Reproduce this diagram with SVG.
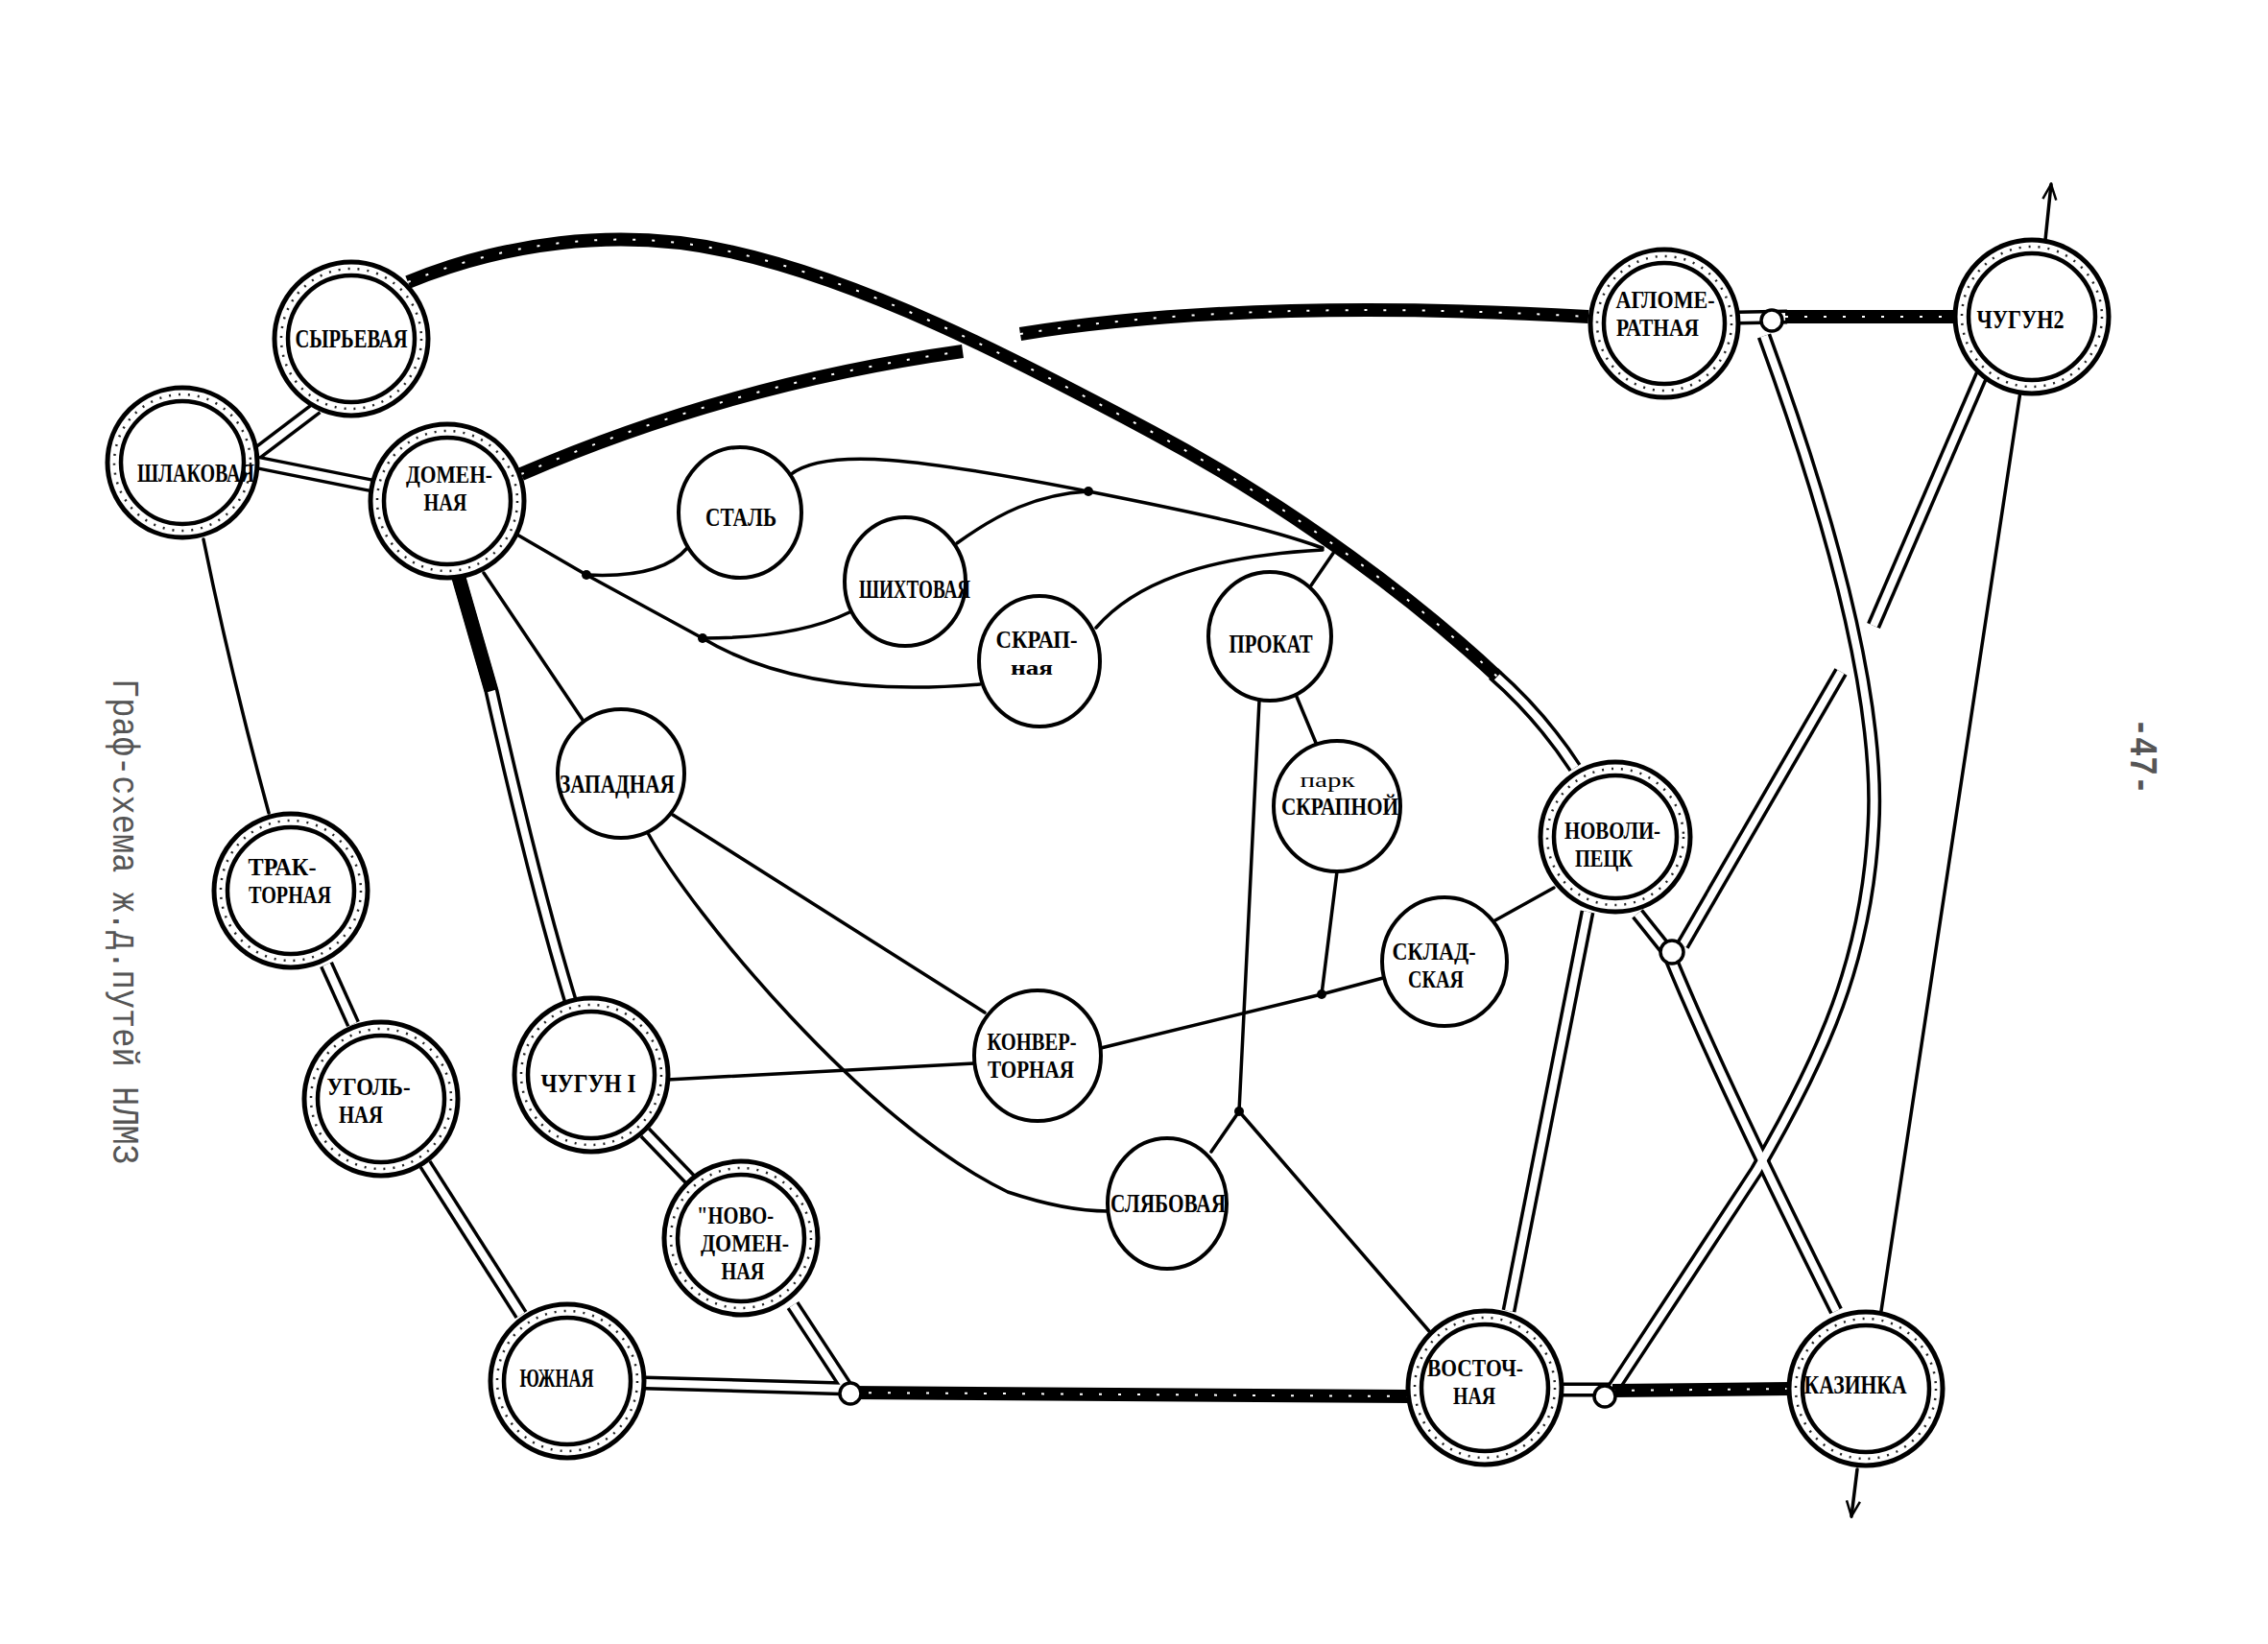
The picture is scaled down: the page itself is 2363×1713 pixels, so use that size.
<svg xmlns="http://www.w3.org/2000/svg" xmlns:xlink="http://www.w3.org/1999/xlink" width="2363" height="1713" viewBox="0 0 2363 1713">
<style>
.bg{fill:#fff}
.lbl{font-family:"Liberation Serif","DejaVu Serif",serif;font-weight:bold;font-size:28px;fill:#000;text-anchor:middle}
.two{font-size:26px}
.sm{font-size:22px}
.lc{font-weight:normal;font-size:22px}
.ro{fill:#fff;stroke:#000;stroke-width:5}
.rm{fill:none;stroke:#222;stroke-width:2.5;stroke-dasharray:2 8}
.ri{fill:none;stroke:#000;stroke-width:4.5}
.sn{fill:#fff;stroke:#000;stroke-width:4}
.rb{fill:none;stroke:#000;stroke-width:15;stroke-linecap:butt;stroke-linejoin:round}
.rw{fill:none;stroke:#fff;stroke-width:8;stroke-linecap:butt;stroke-linejoin:round}
.hb{fill:none;stroke:#000;stroke-width:14;stroke-linecap:butt;stroke-linejoin:round}
.hw{fill:none;stroke:#fff;stroke-width:2;stroke-dasharray:3 17}
.th{fill:none;stroke:#000;stroke-width:3.5;stroke-linecap:round;stroke-linejoin:round}
.dot{fill:#000}
.blob{fill:#fff;stroke:#000;stroke-width:3.5}
.cap{font-family:"Liberation Mono","DejaVu Sans Mono",monospace;fill:#555;text-anchor:middle}
</style>
<defs>
<marker id="arr" viewBox="0 0 20 20" refX="18" refY="10" markerWidth="20" markerHeight="20" markerUnits="userSpaceOnUse" orient="auto">
<path d="M2,3 L18,10 L2,17" fill="none" stroke="#000" stroke-width="2.5"/>
</marker>
<path id="r1" d="M268,472 L330,425"/>
<path id="r2" d="M268,482 L388,506"/>
<path id="r3" d="M340,1005 L368,1067"/>
<path id="r4" d="M443,1213 L543,1370"/>
<path id="r5" d="M478,602 L512,720 C530,800 560,930 594,1042"/>
<path id="r6" d="M672,1180 L722,1232"/>
<path id="r7" d="M826,1360 L885,1450"/>
<path id="r8" d="M672,1441 L885,1447"/>
<path id="r9" d="M1556,702 Q1605,745 1641,800"/>
<path id="r10" d="M1654,950 L1572,1366"/>
<path id="r11" d="M1706,952 L1738,992 Q1790,1120 1913,1366"/>
<path id="r12" d="M2065,390 L1952,652"/>
<path id="r13" d="M1918,700 L1753,985"/>
<path id="r14" d="M1810,331 L1862,330"/>
<path id="r15" d="M1838,350 C1900,520 1960,720 1952,860 C1945,1000 1900,1100 1830,1220 L1680,1448"/>
<path id="r16" d="M1627,1448 L1682,1448"/>
<path id="h1" d="M425,294 C520,255 640,235 760,262 C900,293 1050,370 1200,450 C1350,530 1480,630 1560,705"/>
<path id="h2" d="M543,494 Q760,400 1003,366"/>
<path id="h3" d="M1063,348 Q1300,310 1655,330"/>
<path id="h4" d="M885,1451 L1468,1455"/>
<path id="h5" d="M1680,1449 L1866,1447"/>
<path id="h6" d="M478,602 L512,720"/>
<path id="h7" d="M1860,330 L2040,330"/>
</defs>
<rect class="bg" x="0" y="0" width="2363" height="1713"/>
<g id="connectors">
<use xlink:href="#r1" class="rb"/><use xlink:href="#r2" class="rb"/><use xlink:href="#r3" class="rb"/><use xlink:href="#r4" class="rb"/><use xlink:href="#r5" class="rb"/><use xlink:href="#r6" class="rb"/><use xlink:href="#r7" class="rb"/><use xlink:href="#r8" class="rb"/><use xlink:href="#r9" class="rb"/><use xlink:href="#r10" class="rb"/><use xlink:href="#r11" class="rb"/><use xlink:href="#r12" class="rb"/><use xlink:href="#r13" class="rb"/><use xlink:href="#r14" class="rb"/><use xlink:href="#r15" class="rb"/><use xlink:href="#r16" class="rb"/>
<use xlink:href="#r1" class="rw"/><use xlink:href="#r2" class="rw"/><use xlink:href="#r3" class="rw"/><use xlink:href="#r4" class="rw"/><use xlink:href="#r5" class="rw"/><use xlink:href="#r6" class="rw"/><use xlink:href="#r7" class="rw"/><use xlink:href="#r8" class="rw"/><use xlink:href="#r9" class="rw"/><use xlink:href="#r10" class="rw"/><use xlink:href="#r11" class="rw"/><use xlink:href="#r12" class="rw"/><use xlink:href="#r13" class="rw"/><use xlink:href="#r14" class="rw"/><use xlink:href="#r15" class="rw"/><use xlink:href="#r16" class="rw"/>
<use xlink:href="#h1" class="hb"/><use xlink:href="#h2" class="hb"/><use xlink:href="#h3" class="hb"/><use xlink:href="#h4" class="hb"/><use xlink:href="#h5" class="hb"/><use xlink:href="#h6" class="hb"/><use xlink:href="#h7" class="hb"/>
<use xlink:href="#h1" class="hw"/><use xlink:href="#h2" class="hw"/><use xlink:href="#h3" class="hw"/><use xlink:href="#h4" class="hw"/><use xlink:href="#h5" class="hw"/><use xlink:href="#h7" class="hw"/>
<path class="th" d="M212,562 Q240,700 280,847"/>
<path class="th" d="M504,597 L607,750"/>
<path class="th" d="M537,556 L611,599 L732,665 C790,700 880,725 1021,713"/>
<path class="th" d="M716,571 C700,590 670,602 611,599"/>
<path class="th" d="M885,638 C840,660 780,665 732,665"/>
<path class="th" d="M823,495 C860,465 960,478 1134,512 C1250,535 1320,550 1378,571"/>
<path class="th" d="M997,566 C1040,535 1080,515 1134,512"/>
<path class="th" d="M1142,654 C1180,610 1250,580 1378,573"/>
<path class="th" d="M1366,610 L1390,575"/>
<path class="th" d="M1312,730 L1291,1158"/>
<path class="th" d="M1291,1158 L1262,1200"/>
<path class="th" d="M1291,1158 L1489,1387"/>
<path class="th" d="M1351,726 L1371,774"/>
<path class="th" d="M1393,908 L1377,1036"/>
<path class="th" d="M1147,1092 L1377,1036 L1441,1019"/>
<path class="th" d="M695,1125 L1015,1108"/>
<path class="th" d="M701,849 L1026,1055"/>
<path class="th" d="M675,868 C720,950 900,1170 1050,1242 Q1110,1262 1154,1262"/>
<path class="th" d="M1619,925 L1556,960"/>
<path class="th" d="M2105,408 L1960,1366"/>
<path class="th" d="M2131,250 L2137,192" marker-end="url(#arr)"/>
<path class="th" d="M1935,1531 L1929,1580" marker-end="url(#arr)"/>
<circle class="dot" cx="611" cy="599" r="5"/>
<circle class="dot" cx="732" cy="665" r="5"/>
<circle class="dot" cx="1134" cy="512" r="5"/>
<circle class="dot" cx="1377" cy="1036" r="5"/>
<circle class="dot" cx="1291" cy="1158" r="5"/>
<circle class="blob" cx="1846" cy="334" r="11"/>
<circle class="blob" cx="886" cy="1452" r="11"/>
<circle class="blob" cx="1672" cy="1455" r="11"/>
<circle class="blob" cx="1742" cy="992" r="12"/>
</g>
<g id="n-syrevaya"><circle class="ro" cx="366" cy="353" r="80"/><circle class="rm" cx="366" cy="353" r="73"/><circle class="ri" cx="366" cy="353" r="66"/><text class="lbl" x="366" y="362" textLength="117" lengthAdjust="spacingAndGlyphs">СЫРЬЕВАЯ</text></g>
<g id="n-shlakovaya"><circle class="ro" cx="190" cy="482" r="78"/><circle class="rm" cx="190" cy="482" r="71"/><circle class="ri" cx="190" cy="482" r="64"/><text class="lbl" x="204" y="502" textLength="122" lengthAdjust="spacingAndGlyphs">ШЛАКОВАЯ</text></g>
<g id="n-domennaya"><circle class="ro" cx="466" cy="522" r="80"/><circle class="rm" cx="466" cy="522" r="73"/><circle class="ri" cx="466" cy="522" r="66"/><text class="lbl two" x="468" y="503" textLength="90" lengthAdjust="spacingAndGlyphs">ДОМЕН-</text><text class="lbl two" x="464" y="532" textLength="45" lengthAdjust="spacingAndGlyphs">НАЯ</text></g>
<g id="n-traktornaya"><circle class="ro" cx="303" cy="928" r="80"/><circle class="rm" cx="303" cy="928" r="73"/><circle class="ri" cx="303" cy="928" r="66"/><text class="lbl two" x="294" y="912" textLength="71" lengthAdjust="spacingAndGlyphs">ТРАК-</text><text class="lbl two" x="302" y="941" textLength="86" lengthAdjust="spacingAndGlyphs">ТОРНАЯ</text></g>
<g id="n-ugolnaya"><circle class="ro" cx="397" cy="1145" r="80"/><circle class="rm" cx="397" cy="1145" r="73"/><circle class="ri" cx="397" cy="1145" r="66"/><text class="lbl two" x="384" y="1141" textLength="87" lengthAdjust="spacingAndGlyphs">УГОЛЬ-</text><text class="lbl two" x="376" y="1170" textLength="46" lengthAdjust="spacingAndGlyphs">НАЯ</text></g>
<g id="n-chugun1"><circle class="ro" cx="616" cy="1120" r="80"/><circle class="rm" cx="616" cy="1120" r="73"/><circle class="ri" cx="616" cy="1120" r="66"/><text class="lbl" x="613" y="1138" textLength="99" lengthAdjust="spacingAndGlyphs">ЧУГУН I</text></g>
<g id="n-novodomennaya"><circle class="ro" cx="772" cy="1290" r="80"/><circle class="rm" cx="772" cy="1290" r="73"/><circle class="ri" cx="772" cy="1290" r="66"/><text class="lbl two" x="766" y="1275" textLength="80" lengthAdjust="spacingAndGlyphs">"НОВО-</text><text class="lbl two" x="776" y="1304" textLength="92" lengthAdjust="spacingAndGlyphs">ДОМЕН-</text><text class="lbl two" x="774" y="1333" textLength="45" lengthAdjust="spacingAndGlyphs">НАЯ</text></g>
<g id="n-yuzhnaya"><circle class="ro" cx="591" cy="1439" r="80"/><circle class="rm" cx="591" cy="1439" r="73"/><circle class="ri" cx="591" cy="1439" r="66"/><text class="lbl" x="580" y="1445" textLength="77" lengthAdjust="spacingAndGlyphs">ЮЖНАЯ</text></g>
<g id="n-vostochnaya"><circle class="ro" cx="1547" cy="1446" r="80"/><circle class="rm" cx="1547" cy="1446" r="73"/><circle class="ri" cx="1547" cy="1446" r="66"/><text class="lbl two" x="1537" y="1434" textLength="100" lengthAdjust="spacingAndGlyphs">ВОСТОЧ-</text><text class="lbl two" x="1536" y="1463" textLength="44" lengthAdjust="spacingAndGlyphs">НАЯ</text></g>
<g id="n-kazinka"><circle class="ro" cx="1944" cy="1447" r="80"/><circle class="rm" cx="1944" cy="1447" r="73"/><circle class="ri" cx="1944" cy="1447" r="66"/><text class="lbl" x="1933" y="1452" textLength="107" lengthAdjust="spacingAndGlyphs">КАЗИНКА</text></g>
<g id="n-novolipetsk"><circle class="ro" cx="1683" cy="872" r="78"/><circle class="rm" cx="1683" cy="872" r="71"/><circle class="ri" cx="1683" cy="872" r="64"/><text class="lbl two" x="1680" y="874" textLength="100" lengthAdjust="spacingAndGlyphs">НОВОЛИ-</text><text class="lbl two" x="1671" y="903" textLength="60" lengthAdjust="spacingAndGlyphs">ПЕЦК</text></g>
<g id="n-aglomeratnaya"><circle class="ro" cx="1734" cy="337" r="77"/><circle class="rm" cx="1734" cy="337" r="70"/><circle class="ri" cx="1734" cy="337" r="63"/><text class="lbl two" x="1735" y="321" textLength="103" lengthAdjust="spacingAndGlyphs">АГЛОМЕ-</text><text class="lbl two" x="1727" y="350" textLength="86" lengthAdjust="spacingAndGlyphs">РАТНАЯ</text></g>
<g id="n-chugun2"><circle class="ro" cx="2117" cy="330" r="80"/><circle class="rm" cx="2117" cy="330" r="73"/><circle class="ri" cx="2117" cy="330" r="66"/><text class="lbl" x="2105" y="342" textLength="91" lengthAdjust="spacingAndGlyphs">ЧУГУН2</text></g>
<g id="n-stal"><ellipse class="sn" cx="771" cy="534" rx="64" ry="68"/><text class="lbl" x="772" y="548" textLength="74" lengthAdjust="spacingAndGlyphs">СТАЛЬ</text></g>
<g id="n-shikhtovaya"><ellipse class="sn" cx="943" cy="606" rx="63" ry="67"/><text class="lbl" x="953" y="623" textLength="116" lengthAdjust="spacingAndGlyphs">ШИХТОВАЯ</text></g>
<g id="n-skrapnaya"><ellipse class="sn" cx="1083" cy="689" rx="63" ry="68"/><text class="lbl two" x="1080" y="675" textLength="85" lengthAdjust="spacingAndGlyphs">СКРАП-</text><text class="lbl sm" x="1075" y="703" textLength="44" lengthAdjust="spacingAndGlyphs">ная</text></g>
<g id="n-prokat"><ellipse class="sn" cx="1323" cy="663" rx="64" ry="67"/><text class="lbl" x="1324" y="680" textLength="87" lengthAdjust="spacingAndGlyphs">ПРОКАТ</text></g>
<g id="n-zapadnaya"><ellipse class="sn" cx="647" cy="806" rx="66" ry="67"/><text class="lbl" x="643" y="826" textLength="120" lengthAdjust="spacingAndGlyphs">ЗАПАДНАЯ</text></g>
<g id="n-park-skrapnoy"><ellipse class="sn" cx="1393" cy="840" rx="66" ry="68"/><text class="lbl lc" x="1383" y="820" textLength="57" lengthAdjust="spacingAndGlyphs">парк</text><text class="lbl two" x="1396" y="849" textLength="122" lengthAdjust="spacingAndGlyphs">СКРАПНОЙ</text></g>
<g id="n-skladskaya"><ellipse class="sn" cx="1505" cy="1002" rx="65" ry="67"/><text class="lbl two" x="1494" y="1000" textLength="87" lengthAdjust="spacingAndGlyphs">СКЛАД-</text><text class="lbl two" x="1496" y="1029" textLength="58" lengthAdjust="spacingAndGlyphs">СКАЯ</text></g>
<g id="n-konvertornaya"><ellipse class="sn" cx="1081" cy="1100" rx="66" ry="68"/><text class="lbl two" x="1075" y="1094" textLength="93" lengthAdjust="spacingAndGlyphs">КОНВЕР-</text><text class="lbl two" x="1074" y="1123" textLength="90" lengthAdjust="spacingAndGlyphs">ТОРНАЯ</text></g>
<g id="n-slyabovaya"><ellipse class="sn" cx="1216" cy="1254" rx="62" ry="68"/><text class="lbl" x="1217" y="1263" textLength="120" lengthAdjust="spacingAndGlyphs">СЛЯБОВАЯ</text></g>
<g id="captions">
<text class="cap" transform="translate(118,960) rotate(90)" font-size="38" textLength="506" lengthAdjust="spacingAndGlyphs">Граф-схема ж.д.путей НЛМЗ</text>
<text class="cap" transform="translate(2220,788) rotate(90)" font-size="40" font-weight="bold" fill="#000" textLength="80" lengthAdjust="spacingAndGlyphs">-47-</text>
</g>
</svg>
